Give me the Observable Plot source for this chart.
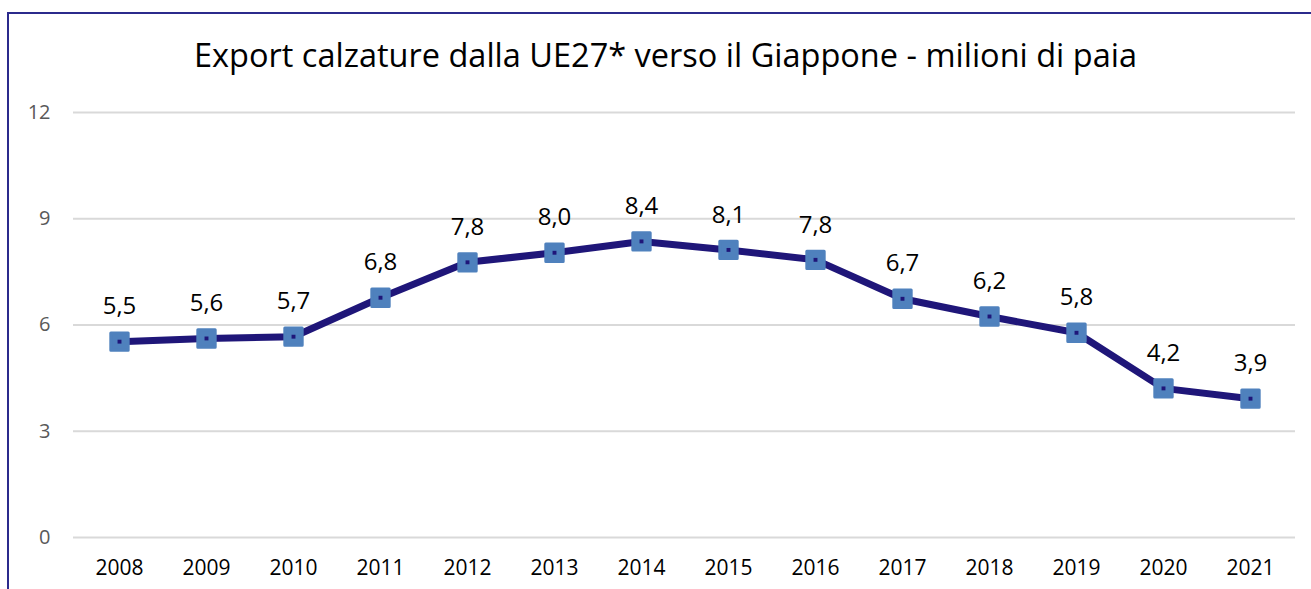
<!DOCTYPE html>
<html>
<head>
<meta charset="utf-8">
<script src="https://cdn.jsdelivr.net/npm/d3@7"></script>
<script src="https://cdn.jsdelivr.net/npm/@observablehq/plot@0.6"></script>
<style>
  html, body { margin: 0; padding: 0; background: #fff; }
  #wrap { position: relative; width: 1311px; height: 589px; overflow: hidden; font-family: "Open Sans", sans-serif; }
  #frame { position: absolute; left: 7px; top: 12px; width: 1400px; height: 700px; border-left: 2px solid #2b2a8c; border-top: 2px solid #2b2a8c; box-sizing: border-box; }
  #title { position: absolute; left: 0; width: 1331px; top: 35px; text-align: center; font-size: 32.5px; color: #000; line-height: 40px; white-space: nowrap; }
  #chart { position: absolute; left: 0; top: 90px; }
</style>
</head>
<body>
<div id="wrap">
  <div id="frame"></div>
  <div id="title">Export calzature dalla UE27* verso il Giappone - milioni di paia</div>
  <div id="chart"></div>
</div>
<script>
const years = ["2008","2009","2010","2011","2012","2013","2014","2015","2016","2017","2018","2019","2020","2021"];
const values = [5.53, 5.62, 5.67, 6.77, 7.77, 8.04, 8.36, 8.12, 7.84, 6.74, 6.24, 5.78, 4.21, 3.92];
const yTicks = [0, 3, 6, 9, 12];

const data = years.map((y, i) => ({year: y, value: values[i]}));
const fmt = v => d3.format(".1f")(v).replace(".", ",");

const lineColor = "#1f1679";
const markColor = "#4f81bd";

const chart = Plot.plot({
  width: 1311,
  height: 499,
  marginLeft: 73,
  marginRight: 16,
  marginTop: 22,
  marginBottom: 52,
  style: {fontFamily: "Open Sans, sans-serif", background: "transparent"},
  x: {type: "point", domain: years, padding: 0.5, label: null},
  y: {domain: [0, 12], ticks: yTicks, label: null},
  marks: [
    Plot.gridY(yTicks, {stroke: "#d9d9d9", strokeOpacity: 1, strokeWidth: 2}),
    Plot.axisY(yTicks, {tickSize: 0, tickPadding: 23, fontSize: 20, fill: "#595959", label: null}),
    Plot.axisX({tickSize: 0, tickPadding: 23, fontSize: 21, fill: "#000", label: null}),
    Plot.line(data, {x: "year", y: "value", stroke: lineColor, strokeWidth: 7, strokeLinejoin: "round"}),
    Plot.dot(data, {x: "year", y: "value", symbol: "square", r: 9.8, fill: markColor, stroke: markColor, strokeWidth: 3, strokeLinejoin: "round"}),
    Plot.dot(data, {x: "year", y: "value", symbol: "square", r: 2.2, fill: lineColor}),
    Plot.text(data, {x: "year", y: "value", text: d => fmt(d.value), dy: -35, fontSize: 24, fill: "#000"})
  ]
});
document.getElementById("chart").appendChild(chart);
</script>
</body>
</html>
